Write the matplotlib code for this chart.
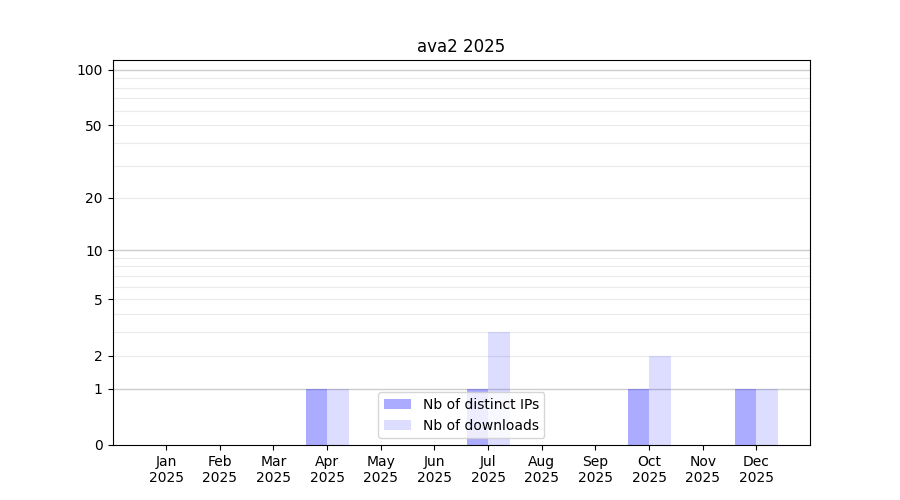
import numpy as np
import matplotlib
matplotlib.use("Agg")
import matplotlib.pyplot as plt

months = ["Jan", "Feb", "Mar", "Apr", "May", "Jun", "Jul", "Aug", "Sep", "Oct", "Nov", "Dec"]
year = "2025"
distinct_ips = [0, 0, 0, 1, 0, 0, 1, 0, 0, 1, 0, 1]
downloads = [0, 0, 0, 1, 0, 0, 3, 0, 0, 2, 0, 1]
ytick_values = [0, 1, 2, 5, 10, 20, 50, 100]
major_grid = [1, 10, 100]
minor_grid = [2, 3, 4, 5, 6, 7, 8, 9, 20, 30, 40, 50, 60, 70, 80, 90]

fig, ax = plt.subplots(figsize=(9, 5), dpi=100)

fwd = lambda v: np.log10(1 + np.maximum(v, 0))
inv = lambda v: 10 ** v - 1
ax.set_yscale("function", functions=(fwd, inv))

x = np.arange(len(months))
w = 0.4
for g in minor_grid:
    ax.axhline(g, color="#ebebeb", lw=0.8, zorder=0)
for g in major_grid:
    ax.axhline(g, color="#cccccc", lw=1.0, zorder=0)

ax.bar(x - w / 2, distinct_ips, width=w, color="blue", alpha=0.33, label="Nb of distinct IPs", zorder=1)
ax.bar(x + w / 2, downloads, width=w, color="blue", alpha=0.135, label="Nb of downloads", zorder=1)

ax.set_xlim(-1, 12)
ax.set_ylim(0, 113)
ax.set_xticks(x)
ax.set_xticklabels([f"{m}\n{year}" for m in months])
ax.set_yticks(ytick_values)
ax.set_yticklabels([str(v) for v in ytick_values])
ax.yaxis.set_minor_locator(matplotlib.ticker.NullLocator())
ax.set_title(f"ava2 {year}")
ax.legend(loc="lower center")

fig.savefig("out.png", dpi=100)
